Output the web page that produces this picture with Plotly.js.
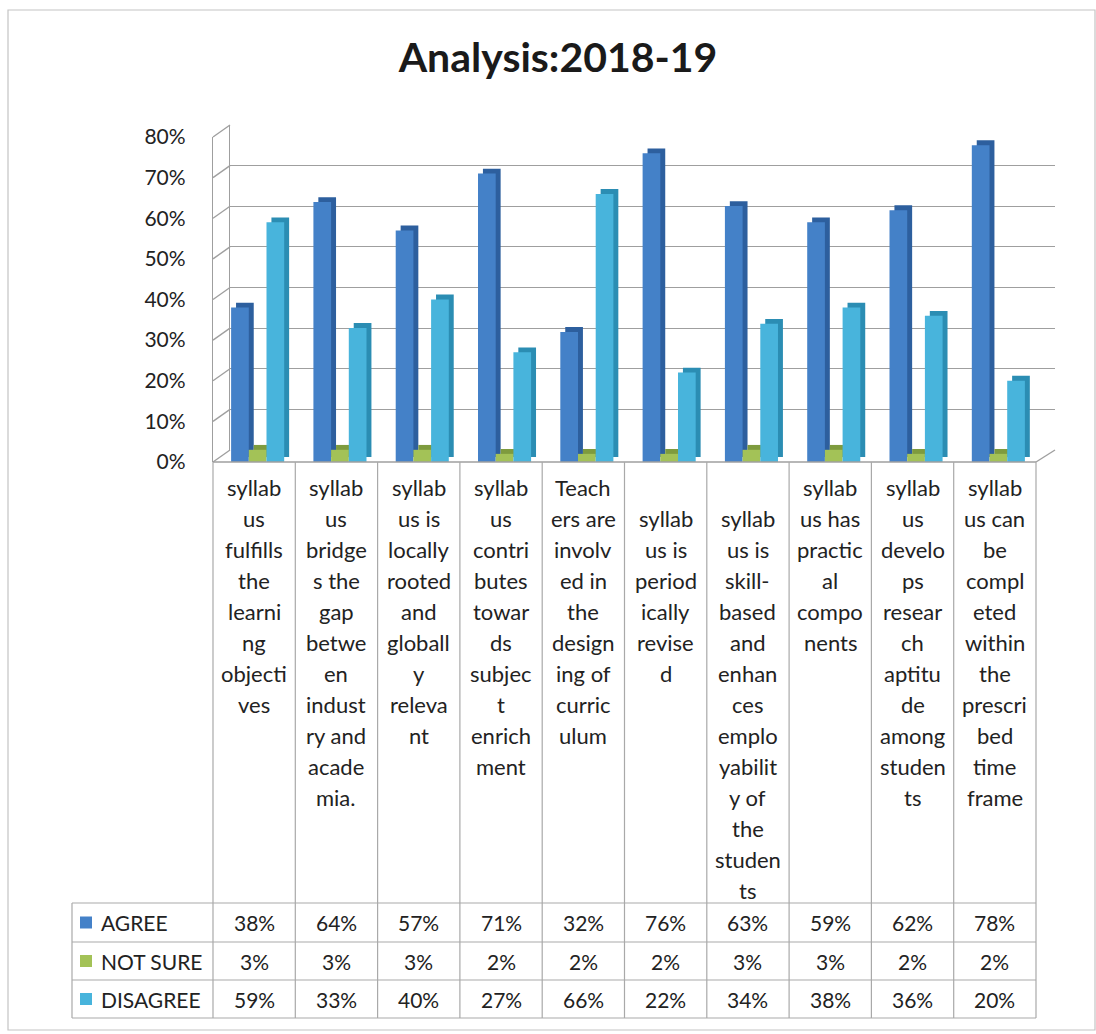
<!DOCTYPE html>
<html>
<head>
<meta charset="utf-8">
<script src="https://cdn.plot.ly/plotly-3.0.1.min.js"></script>
<style>
  html, body { margin: 0; padding: 0; background: #ffffff; }
  #chart { width: 1096px; height: 1034px; }
</style>
</head>
<body>
<div id="chart"></div>
<script>
// ---------------- data ----------------
const categories = [
  "syllabus fulfills the learning objectives",
  "syllabus bridges the gap between industry and academia.",
  "syllabus is locally rooted and globally relevant",
  "syllabus contributes towards subject enrichment",
  "Teachers are involved in the designing of curriculum",
  "syllabus is periodically revised",
  "syllabus is skill-based and enhances employability of the students",
  "syllabus has practical components",
  "syllabus develops research aptitude among students",
  "syllabus can be completed within the prescribed time frame"
];
const categoryLines = [
  ["syllab", "us", "fulfills", "the", "learni", "ng", "objecti", "ves"],
  ["syllab", "us", "bridge", "s the", "gap", "betwe", "en", "indust", "ry and", "acade", "mia."],
  ["syllab", "us is", "locally", "rooted", "and", "globall", "y", "releva", "nt"],
  ["syllab", "us", "contri", "butes", "towar", "ds", "subjec", "t", "enrich", "ment"],
  ["Teach", "ers are", "involv", "ed in", "the", "design", "ing of", "curric", "ulum"],
  ["syllab", "us is", "period", "ically", "revise", "d"],
  ["syllab", "us is", "skill-", "based", "and", "enhan", "ces", "emplo", "yabilit", "y of", "the", "studen", "ts"],
  ["syllab", "us has", "practic", "al", "compo", "nents"],
  ["syllab", "us", "develo", "ps", "resear", "ch", "aptitu", "de", "among", "studen", "ts"],
  ["syllab", "us can", "be", "compl", "eted", "within", "the", "prescri", "bed", "time", "frame"]
];
const seriesNames = ["AGREE", "NOT SURE", "DISAGREE"];
const agree    = [0.38, 0.64, 0.57, 0.71, 0.32, 0.76, 0.63, 0.59, 0.62, 0.78];
const notSure  = [0.03, 0.03, 0.03, 0.02, 0.02, 0.02, 0.03, 0.03, 0.02, 0.02];
const disagree = [0.59, 0.33, 0.40, 0.27, 0.66, 0.22, 0.34, 0.38, 0.36, 0.20];
const yTickVals = [0, 0.1, 0.2, 0.3, 0.4, 0.5, 0.6, 0.7, 0.8];
const yTickText = ["0%", "10%", "20%", "30%", "40%", "50%", "60%", "70%", "80%"];
const titleText = "Analysis:2018-19";

// ---------------- styling / geometry ----------------
const W = 1096, H = 1034;
const px = x => x / W;
const py = y => 1 - y / H;
const FRONT = { x0: 213, x1: 1036, yb: 462, yt: 137 };
const BACK  = { x0: 230, x1: 1055, yb: 450, yt: 125 };
const YMAX = 0.8;
const FONT = "Lato, 'Open Sans', sans-serif";
const TEXT = "#222222";
const LINE = "#a9a9a9";
const frontColors = ["#4481c8", "#a3c257", "#48b4dc"];
const sideColors  = ["#2d5f9e", "#7e9b3e", "#2b8db3"];
const barOffsets = [-0.28, -0.065, 0.15];
const barWidth = 0.215;
const depthX = 0.06, depthY = 0.012;
const labelStartRow = [0, 0, 0, 0, 0, 1, 1, 0, 0, 0];
const labelTop = 487, labelStep = 31;
const tableTop = 462, rowLines = [903, 942, 980, 1018], rowHeaderLeft = 72;
const colW = (FRONT.x1 - FRONT.x0) / categories.length;
const colCenter = c => FRONT.x0 + colW * (c + 0.5);

const series = [agree, notSure, disagree];

// ---------------- traces ----------------
const traces = [];
// empty trace so the back-wall (grid) subplot is drawn
traces.push({ type: "scatter", x: [], y: [], xaxis: "x", yaxis: "y", showlegend: false, hoverinfo: "skip" });
series.forEach((vals, i) => {
  traces.push({
    type: "bar", x: categories, y: vals, base: depthY,
    offset: barOffsets[i] + depthX, width: barWidth,
    marker: { color: sideColors[i], line: { width: 0 } },
    xaxis: "x2", yaxis: "y2", hoverinfo: "skip", showlegend: false
  });
  traces.push({
    type: "bar", x: categories, y: vals, name: seriesNames[i],
    offset: barOffsets[i], width: barWidth,
    marker: { color: frontColors[i], line: { width: 0 } },
    xaxis: "x2", yaxis: "y2", showlegend: false,
    hovertemplate: "%{x}<br>" + seriesNames[i] + ": %{y:.0%}<extra></extra>"
  });
});

// ---------------- shapes ----------------
const shapes = [];
const ln = (x0, y0, x1, y1, color, w) => shapes.push({
  type: "line", xref: "paper", yref: "paper",
  x0: px(x0), y0: py(y0), x1: px(x1), y1: py(y1),
  line: { color: color || LINE, width: w || 1.2 }
});
// outer chart border
shapes.push({ type: "rect", xref: "paper", yref: "paper",
  x0: px(8), y0: py(10), x1: px(1095), y1: py(1030),
  line: { color: "#c4c4c4", width: 1.2 }, fillcolor: "rgba(0,0,0,0)" });
// left wall diagonals at each tick
yTickVals.forEach(v => {
  const yf = FRONT.yb - (FRONT.yb - FRONT.yt) * v / YMAX;
  const yb = BACK.yb - (BACK.yb - BACK.yt) * v / YMAX;
  ln(FRONT.x0, yf, BACK.x0, yb, "#9f9f9f", 1.4);
});
// floor right edge
ln(FRONT.x1, FRONT.yb, BACK.x1, BACK.yb, "#9f9f9f", 1.4);
// table lines
ln(FRONT.x0, tableTop, FRONT.x1, tableTop, "#9f9f9f", 1.4);
rowLines.forEach(y => ln(rowHeaderLeft, y, FRONT.x1, y));
for (let k = 0; k <= categories.length; k++) {
  const x = FRONT.x0 + colW * k;
  ln(x, tableTop, x, rowLines[rowLines.length - 1]);
}
ln(rowHeaderLeft, rowLines[0], rowHeaderLeft, rowLines[rowLines.length - 1]);

// ---------------- annotations ----------------
const annotations = [];
categoryLines.forEach((lines, c) => {
  lines.forEach((t, j) => {
    annotations.push({
      xref: "paper", yref: "paper", showarrow: false,
      x: px(colCenter(c)), y: py(labelTop + labelStep * (labelStartRow[c] + j)),
      xanchor: "center", yanchor: "middle", text: t,
      font: { family: FONT, size: 22, color: TEXT }
    });
  });
});
series.forEach((vals, r) => {
  const yc = (rowLines[r] + rowLines[r + 1]) / 2;
  // legend key
  shapes.push({ type: "rect", xref: "paper", yref: "paper",
    x0: px(80), x1: px(92), y0: py(yc - 6), y1: py(yc + 6),
    fillcolor: frontColors[r], line: { width: 0 } });
  annotations.push({
    xref: "paper", yref: "paper", showarrow: false,
    x: px(99), y: py(yc), xanchor: "left", yanchor: "middle",
    text: seriesNames[r], font: { family: FONT, size: 21, color: TEXT }
  });
  vals.forEach((v, c) => {
    annotations.push({
      xref: "paper", yref: "paper", showarrow: false,
      x: px(colCenter(c)), y: py(yc), xanchor: "center", yanchor: "middle",
      text: Math.round(v * 100) + "%", font: { family: FONT, size: 21, color: TEXT }
    });
  });
});

// ---------------- layout ----------------
const layout = {
  width: W, height: H,
  margin: { l: 0, r: 0, t: 0, b: 0 },
  paper_bgcolor: "#ffffff", plot_bgcolor: "rgba(0,0,0,0)",
  showlegend: false,
  barmode: "overlay",
  title: {
    text: titleText, x: px(558), xanchor: "center", y: py(58), yanchor: "middle",
    font: { family: FONT, size: 41, color: "#1a1a1a", weight: "bold" }
  },
  // back wall (gridlines)
  xaxis: {
    domain: [px(BACK.x0), px(BACK.x1)], anchor: "y", range: [0, 1],
    showgrid: false, zeroline: false, showticklabels: false, showline: false, fixedrange: true
  },
  yaxis: {
    domain: [py(BACK.yb), py(BACK.yt)], anchor: "x", range: [0, YMAX],
    tickvals: yTickVals, showgrid: true, gridcolor: "#9f9f9f", gridwidth: 1.4,
    zeroline: false, showticklabels: false, showline: true, linecolor: "#9f9f9f", linewidth: 1.4,
    ticks: "", fixedrange: true
  },
  // front plane (bars + tick labels)
  xaxis2: {
    domain: [px(FRONT.x0), px(FRONT.x1)], anchor: "y2", type: "category",
    range: [-0.5, categories.length - 0.5],
    showgrid: false, zeroline: false, showticklabels: false, showline: false, fixedrange: true
  },
  yaxis2: {
    domain: [py(FRONT.yb), py(FRONT.yt)], anchor: "x2", range: [0, YMAX],
    tickvals: yTickVals, ticktext: yTickText, showgrid: false, zeroline: false,
    showline: true, linecolor: "#9f9f9f", linewidth: 1.4, ticks: "",
    ticklabelstandoff: 22,
    tickfont: { family: FONT, size: 21, color: TEXT }, fixedrange: true
  },
  shapes: shapes,
  annotations: annotations
};

Plotly.newPlot("chart", traces, layout, { displayModeBar: false, responsive: false });
</script>
</body>
</html>
